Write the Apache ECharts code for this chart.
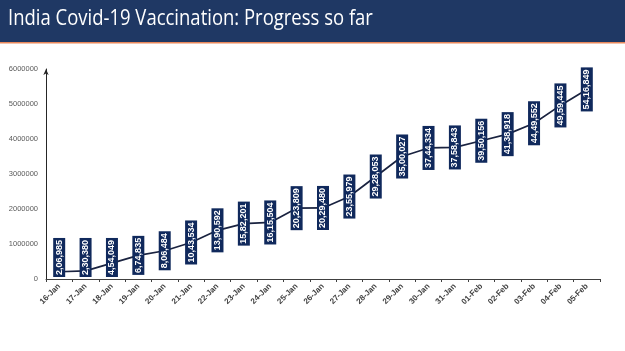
<!DOCTYPE html>
<html>
<head>
<meta charset="utf-8">
<script src="https://cdn.jsdelivr.net/npm/echarts@6/dist/echarts.min.js"></script>
<style>
  html, body { margin: 0; padding: 0; background: #fff; }
  #chart { width: 625px; height: 351px; }
</style>
</head>
<body>
<div id="chart"></div>
<script>
// dates and cumulative doses
const days = ['16-Jan', '17-Jan', '18-Jan', '19-Jan', '20-Jan', '21-Jan', '22-Jan',
  '23-Jan', '24-Jan', '25-Jan', '26-Jan', '27-Jan', '28-Jan', '29-Jan', '30-Jan',
  '31-Jan', '01-Feb', '02-Feb', '03-Feb', '04-Feb', '05-Feb']
const doses = [206985, 230380, 454049, 674835, 806484, 1043534, 1390592,
  1582201, 1615504, 2023809, 2029480, 2355979, 2928053, 3500027, 3744334,
  3758843, 3950156, 4138918, 4449552, 4959445, 5416849]
const yMax = 6000000
const yStep = 1000000

// 2,06,985 style grouping
function indian(n) {
  const s = String(n)
  if (s.length <= 3) return s
  const last3 = s.slice(-3)
  let rest = s.slice(0, -3)
  const parts = []
  while (rest.length > 2) {
    parts.unshift(rest.slice(-2))
    rest = rest.slice(0, -2)
  }
  if (rest) parts.unshift(rest)
  return parts.join(',') + ',' + last3
}

const labelFamily = '"Liberation Sans Narrow", "Liberation Sans"'
const myChart = echarts.init(document.getElementById('chart'), null, { renderer: 'canvas' })

const option = {
  backgroundColor: '#fff',
  animation: false,
  graphic: [
    { type: 'rect', shape: { x: 0, y: 0, width: 625, height: 42 }, style: { fill: '#1f3864' } },
    { type: 'rect', shape: { x: 0, y: 42, width: 625, height: 1.5 }, style: { fill: '#e8875a' } },
    {
      type: 'text', x: 8, y: 8, scaleX: 0.84,
      style: { text: 'India Covid-19 Vaccination: Progress so far', fill: '#fff', font: '22px "Open Sans"' }
    }
  ],
  grid: { left: 46, right: 25, top: 69, bottom: 72 },
  xAxis: {
    type: 'category',
    data: days,
    boundaryGap: true,
    axisLine: { lineStyle: { color: '#404040', width: 1 } },
    axisTick: { show: true, length: 3, lineStyle: { color: '#404040' } },
    axisLabel: { rotate: 45, fontSize: 8, fontWeight: 'bold', color: '#404040', margin: 6, fontFamily: labelFamily }
  },
  yAxis: {
    type: 'value',
    min: 0,
    max: yMax,
    interval: yStep,
    splitLine: { show: false },
    axisLine: { show: true, symbol: ['none', 'arrow'], symbolSize: [4, 6], lineStyle: { color: '#262626', width: 1 } },
    axisTick: { show: false },
    axisLabel: { fontSize: 7.5, color: '#595959', margin: 8, fontFamily: 'Liberation Sans', formatter: v => String(v) }
  },
  series: [{
    type: 'line',
    data: doses,
    symbol: 'circle',
    symbolSize: 0.1,
    showSymbol: true,
    itemStyle: { color: '#1a2340' },
    lineStyle: { color: '#1a2340', width: 1.7 },
    label: {
      show: true,
      position: 'inside',
      rotate: 90,
      formatter: p => indian(p.value),
      color: '#fff',
      fontSize: 9,
      fontWeight: 'bold',
      fontFamily: labelFamily,
      backgroundColor: '#10295c',
      padding: [2, 2, 1, 2]
    }
  }]
}

myChart.setOption(option)

// second pass: lift the boxes that would run through the x axis
const ctx = document.createElement('canvas').getContext('2d')
ctx.font = 'bold 9px ' + labelFamily
const axisY = myChart.convertToPixel({ yAxisIndex: 0 }, 0) - 2
const lifted = doses.map((v, i) => {
  const py = myChart.convertToPixel({ seriesIndex: 0 }, [i, v])[1]
  const half = (ctx.measureText(indian(v)).width + 4) / 2
  const over = py + half - axisY
  return over > 0 ? { value: v, label: { offset: [over, 0] } } : v
})
myChart.setOption({ series: [{ data: lifted }] })

window.addEventListener('resize', myChart.resize)
</script>
</body>
</html>
